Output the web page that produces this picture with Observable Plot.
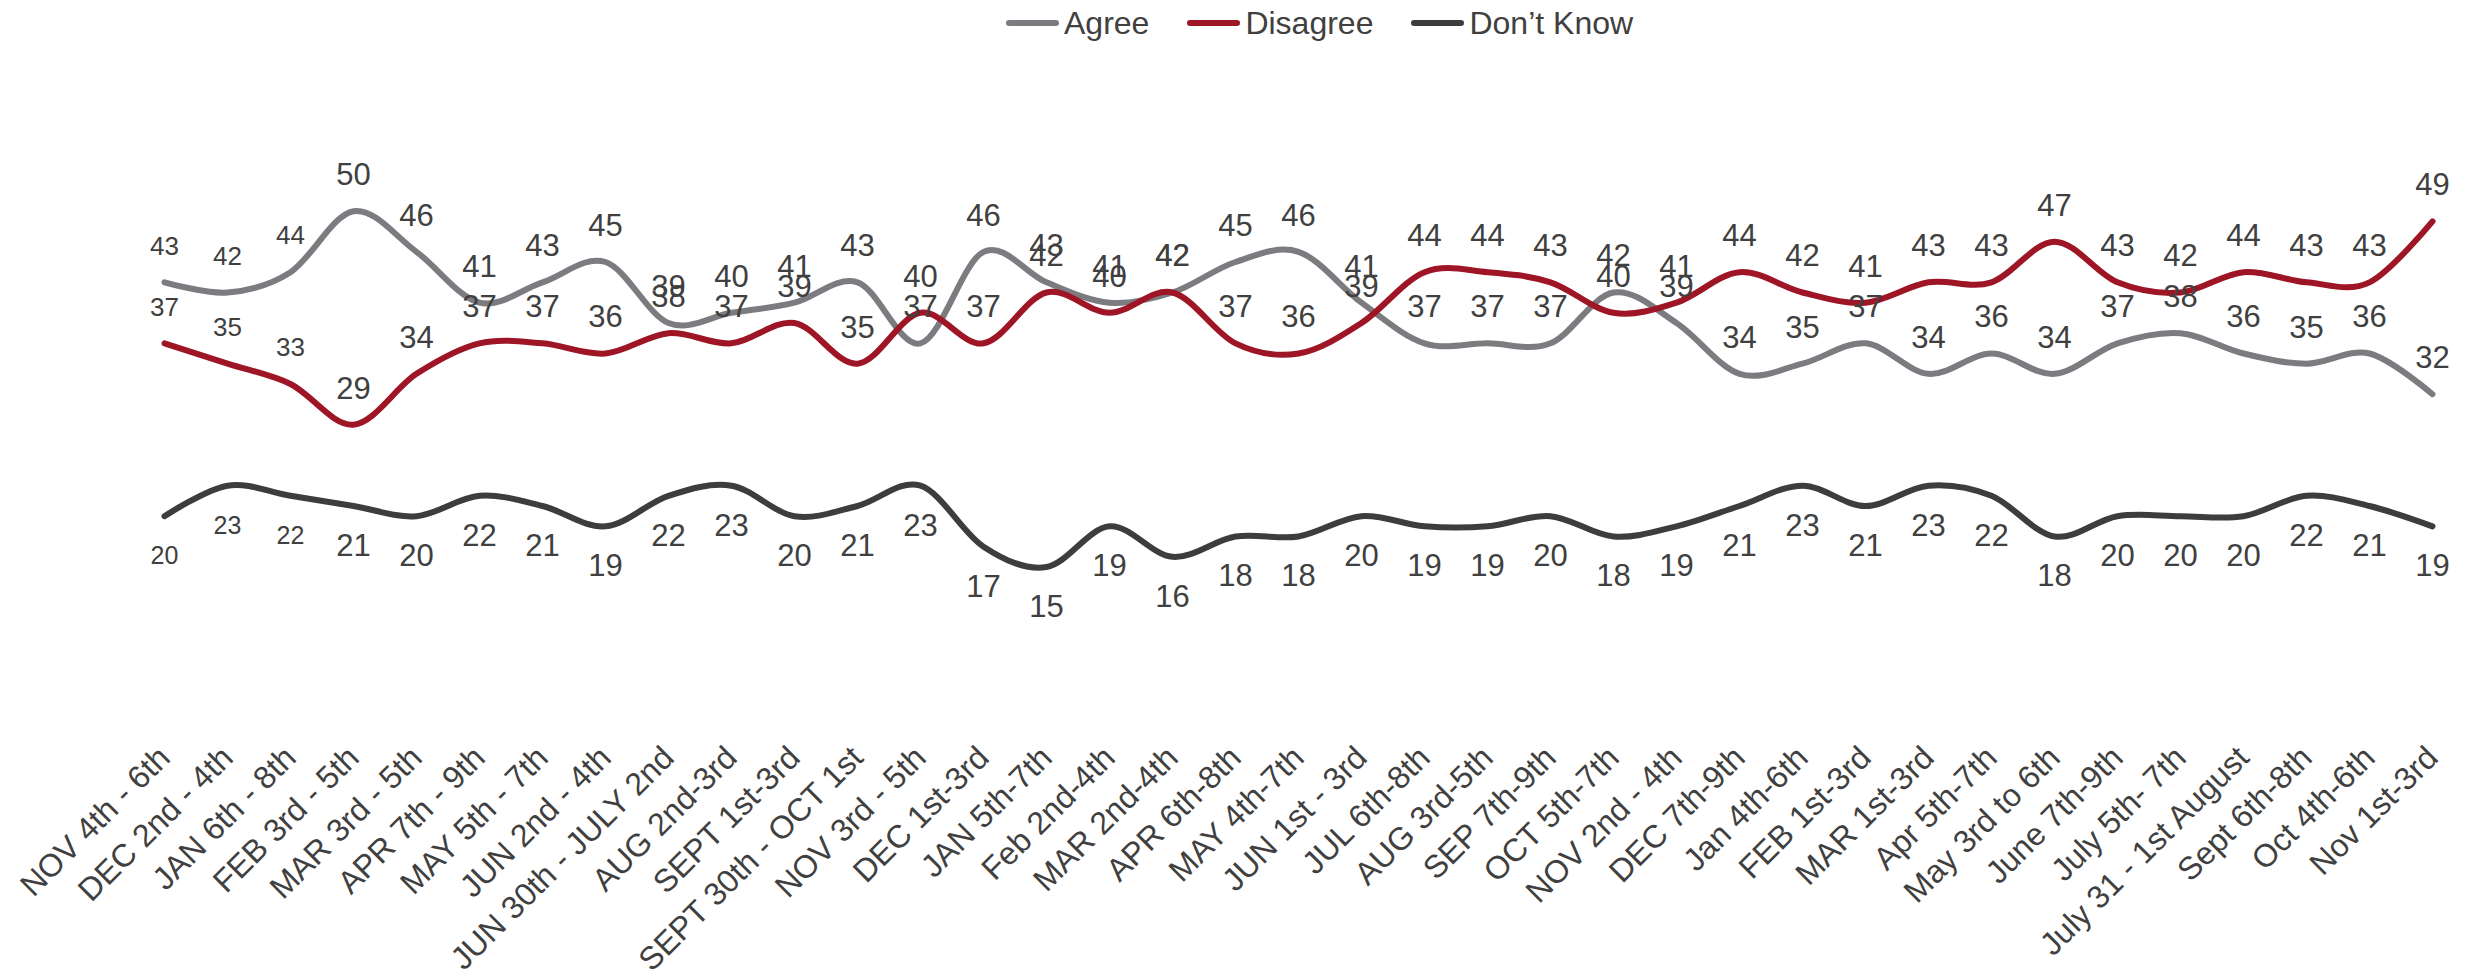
<!DOCTYPE html>
<html>
<head>
<meta charset="utf-8">
<script src="https://cdn.jsdelivr.net/npm/d3@7"></script>
<script src="https://cdn.jsdelivr.net/npm/@observablehq/plot@0.6"></script>
<style>
  html, body { margin: 0; padding: 0; background: #fff; }
  body { width: 2481px; height: 977px; overflow: hidden; font-family: "Liberation Sans", Arial, sans-serif; }
  #legend { height: 46px; display: flex; align-items: center; padding-left: 1006px; box-sizing: border-box; font-size: 32px; color: #404040; }
  .item { display: flex; align-items: center; margin-right: 38px; }
  .sw { width: 53px; height: 6px; border-radius: 3px; margin-right: 5px; }
</style>
</head>
<body>
<div id="legend"></div>
<div id="chart"></div>
<script>
const categories = [
  "NOV 4th - 6th", "DEC 2nd - 4th", "JAN 6th - 8th", "FEB 3rd - 5th", "MAR 3rd - 5th",
  "APR 7th - 9th", "MAY 5th - 7th", "JUN 2nd - 4th", "JUN 30th - JULY 2nd", "AUG 2nd-3rd",
  "SEPT 1st-3rd", "SEPT 30th - OCT 1st", "NOV 3rd - 5th", "DEC 1st-3rd", "JAN 5th-7th",
  "Feb 2nd-4th", "MAR 2nd-4th", "APR 6th-8th", "MAY 4th-7th", "JUN 1st - 3rd",
  "JUL 6th-8th", "AUG 3rd-5th", "SEP 7th-9th", "OCT 5th-7th", "NOV 2nd - 4th",
  "DEC 7th-9th", "Jan 4th-6th", "FEB 1st-3rd", "MAR 1st-3rd", "Apr 5th-7th",
  "May 3rd to 6th", "June 7th-9th", "July 5th- 7th", "July 31 - 1st August", "Sept 6th-8th",
  "Oct 4th-6th", "Nov 1st-3rd"
];
const agree    = [43,42,44,50,46,41,43,45,39,40,41,43,37,46,43,41,42,45,46,41,37,37,37,42,39,34,35,37,34,36,34,37,38,36,35,36,32];
const disagree = [37,35,33,29,34,37,37,36,38,37,39,35,40,37,42,40,42,37,36,39,44,44,43,40,41,44,42,41,43,43,47,43,42,44,43,43,49];
const dontKnow = [20,23,22,21,20,22,21,19,22,23,20,21,23,17,15,19,16,18,18,20,19,19,20,18,19,21,23,21,23,22,18,20,20,20,22,21,19];

const seriesNames = ["Agree", "Disagree", "Don\u2019t Know"];
const seriesColors = ["#7b7b80", "#9e1526", "#3d3d3d"];
const seriesValues = [agree, disagree, dontKnow];

const rows = [];
seriesNames.forEach((s, k) => {
  seriesValues[k].forEach((v, i) => rows.push({series: s, date: categories[i], i, value: v}));
});

// legend
const legend = document.getElementById("legend");
seriesNames.forEach((s, k) => {
  const it = document.createElement("div");
  it.className = "item";
  const sw = document.createElement("div");
  sw.className = "sw";
  sw.style.background = seriesColors[k];
  const t = document.createElement("span");
  t.textContent = s;
  it.appendChild(sw); it.appendChild(t);
  legend.appendChild(it);
});

const chart = Plot.plot({
  width: 2481,
  height: 931,
  marginTop: 63,
  marginBottom: 258,
  marginLeft: 160,
  marginRight: 46,
  style: {fontFamily: "'Liberation Sans', Arial, sans-serif", color: "#404040", background: "#fff"},
  x: {type: "point", domain: categories, padding: 0},
  y: {domain: [0, 60], axis: null},
  color: {domain: seriesNames, range: seriesColors},
  marks: [
    Plot.axisX({tickRotate: -45, tickSize: 0, tickPadding: 33, fontSize: 32, fill: "#404040", label: null}),
    Plot.line(rows, {x: "date", y: "value", z: "series", stroke: "series", strokeWidth: 6, curve: "cardinal", strokeLinecap: "round"}),
    Plot.text(rows.filter(d => d.series !== "Don\u2019t Know"), {
      x: "date", y: "value", text: d => String(d.value), dy: -36,
      fontSize: d => d.i < 3 ? 26 : 31, fill: "#404040"
    }),
    Plot.text(rows.filter(d => d.series === "Don\u2019t Know"), {
      x: "date", y: "value", text: d => String(d.value), dy: 40,
      fontSize: d => d.i < 3 ? 25 : 31, fill: "#404040"
    })
  ]
});
document.getElementById("chart").appendChild(chart);
</script>
</body>
</html>
